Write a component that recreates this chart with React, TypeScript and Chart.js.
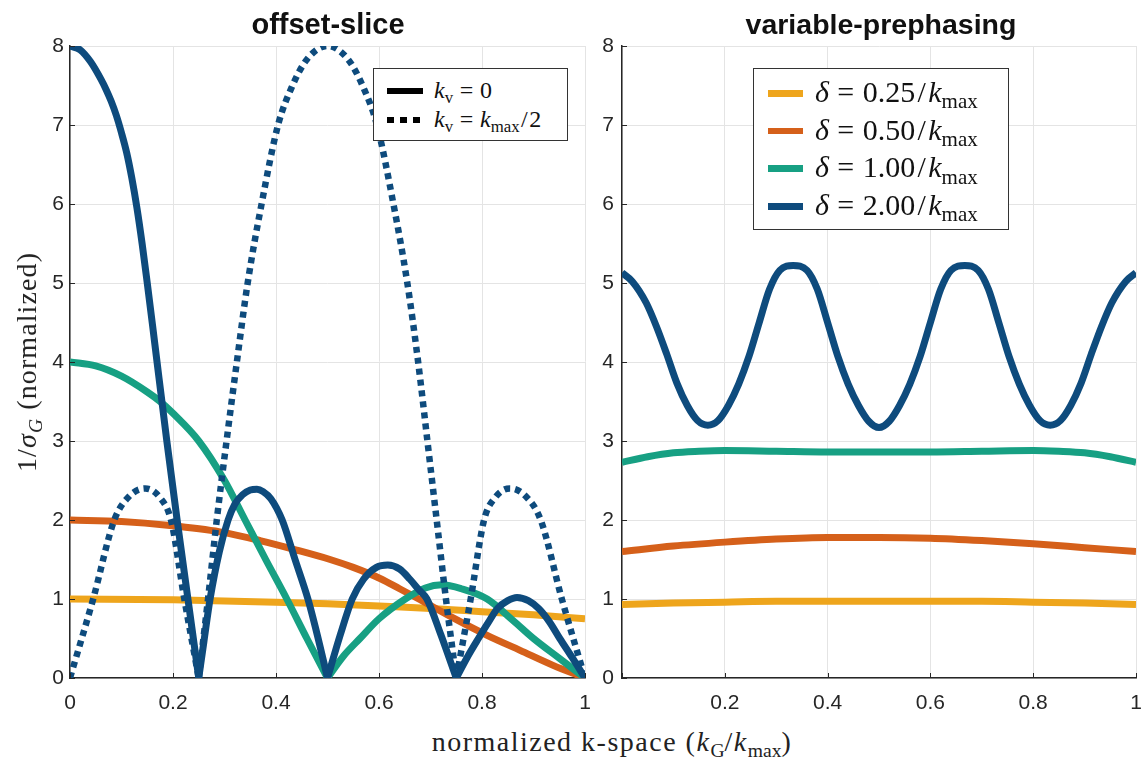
import React, { useEffect, useRef } from 'react';
import { Chart, registerables } from 'chart.js';

Chart.register(...registerables);

// ---------- data ----------
const panelTitles = ['offset-slice', 'variable-prephasing'];
const xTickValues = [0, 0.2, 0.4, 0.6, 0.8, 1];
const yTickValues = [0, 1, 2, 3, 4, 5, 6, 7, 8];

// offset-slice panel (k_v = 0 solid, k_v = k_max/2 dotted)
const osYellowX = [0, 0.2, 0.4, 0.5, 0.6, 0.7, 0.8, 0.9, 1.0];
const osYellowY = [1.0, 0.99, 0.96, 0.94, 0.91, 0.88, 0.84, 0.8, 0.75];

const osOrangeX = [0, 0.1, 0.194, 0.291, 0.369, 0.44, 0.505, 0.55, 0.602, 0.64, 0.68, 0.744, 0.81, 0.874, 0.938, 1.0];
const osOrangeY = [2.0, 1.98, 1.93, 1.85, 1.74, 1.62, 1.5, 1.4, 1.26, 1.13, 0.99, 0.76, 0.54, 0.35, 0.16, 0];

const osGreenX = [0, 0.05, 0.1, 0.15, 0.175, 0.2, 0.25, 0.3, 0.34, 0.38, 0.421, 0.46, 0.5, 0.53, 0.563, 0.6, 0.651, 0.69, 0.722, 0.76, 0.81, 0.86, 0.9, 0.95, 1.0];
const osGreenY = [4.0, 3.95, 3.82, 3.62, 3.5, 3.35, 3.0, 2.5, 2.0, 1.5, 1.0, 0.5, 0, 0.27, 0.5, 0.75, 1.0, 1.14, 1.18, 1.13, 1.0, 0.73, 0.5, 0.25, 0];

const osBlueX = [0, 0.02, 0.04, 0.06, 0.07, 0.08, 0.09, 0.1, 0.11, 0.12, 0.13, 0.14, 0.15, 0.16, 0.169, 0.188, 0.208, 0.229, 0.25,
  0.26, 0.272, 0.29, 0.307, 0.32, 0.335, 0.35, 0.363, 0.375, 0.39, 0.412, 0.437, 0.462, 0.48, 0.5,
  0.525, 0.548, 0.57, 0.595, 0.617, 0.64, 0.66, 0.677, 0.693, 0.72, 0.75,
  0.772, 0.793, 0.812, 0.83, 0.85, 0.868, 0.89, 0.91, 0.93, 0.951, 0.975, 1.0];
const osBlueY = [8.0, 7.95, 7.8, 7.58, 7.45, 7.3, 7.12, 6.9, 6.65, 6.33, 5.95, 5.5, 5.0, 4.48, 4.0, 3.0, 2.0, 1.0, 0,
  0.46, 1.0, 1.6, 2.0, 2.2, 2.32, 2.38, 2.39, 2.36, 2.27, 2.0, 1.5, 1.0, 0.55, 0,
  0.55, 1.0, 1.25, 1.4, 1.43, 1.38, 1.25, 1.12, 1.0, 0.55, 0,
  0.27, 0.5, 0.7, 0.88, 0.98, 1.02, 0.98, 0.88, 0.72, 0.5, 0.26, 0];

const osBlueDotX = [0, 0.045, 0.086, 0.115, 0.146, 0.175, 0.196, 0.222, 0.25, 0.268, 0.285, 0.304, 0.324, 0.345, 0.372, 0.404, 0.43, 0.46, 0.5, 0.54, 0.57, 0.596, 0.628, 0.655, 0.676, 0.694, 0.712, 0.73, 0.75, 0.778, 0.804, 0.825, 0.854, 0.885, 0.914, 0.955, 1.0];
const osBlueDotY = [0, 1.0, 2.0, 2.3, 2.4, 2.28, 2.0, 1.0, 0, 1.0, 2.0, 3.0, 4.0, 5.0, 6.0, 7.0, 7.47, 7.83, 8.0, 7.83, 7.47, 7.0, 6.0, 5.0, 4.0, 3.0, 2.0, 1.0, 0, 1.0, 2.0, 2.28, 2.4, 2.3, 2.0, 1.0, 0];

// variable-prephasing panel
const vpYellowX = [0, 0.1, 0.2, 0.3, 0.4, 0.5, 0.6, 0.7, 0.8, 0.9, 1.0];
const vpYellowY = [0.93, 0.95, 0.96, 0.97, 0.97, 0.97, 0.97, 0.97, 0.96, 0.95, 0.93];

const vpOrangeX = [0, 0.1, 0.2, 0.3, 0.4, 0.5, 0.6, 0.7, 0.8, 0.9, 1.0];
const vpOrangeY = [1.6, 1.67, 1.72, 1.76, 1.78, 1.78, 1.77, 1.74, 1.7, 1.65, 1.6];

const vpGreenX = [0, 0.05, 0.1, 0.15, 0.2, 0.3, 0.4, 0.5, 0.6, 0.7, 0.8, 0.85, 0.9, 0.95, 1.0];
const vpGreenY = [2.73, 2.8, 2.85, 2.87, 2.88, 2.87, 2.86, 2.86, 2.86, 2.87, 2.88, 2.87, 2.85, 2.8, 2.73];

const vpBlueX = [0, 0.02, 0.047, 0.067, 0.087, 0.107, 0.127, 0.147, 0.167, 0.187, 0.207, 0.227, 0.247, 0.267, 0.287, 0.307, 0.333,
  0.36, 0.38, 0.4, 0.42, 0.44, 0.46, 0.48, 0.5, 0.52, 0.54, 0.56, 0.58, 0.6, 0.62, 0.64, 0.667,
  0.693, 0.713, 0.733, 0.753, 0.773, 0.793, 0.813, 0.833, 0.853, 0.873, 0.893, 0.913, 0.933, 0.953, 0.98, 1.0];
const vpBlueY = [5.13, 5.02, 4.75, 4.45, 4.1, 3.73, 3.45, 3.26, 3.2, 3.26, 3.45, 3.72, 4.07, 4.5, 4.92, 5.16, 5.22,
  5.16, 4.92, 4.5, 4.07, 3.72, 3.45, 3.25, 3.17, 3.25, 3.45, 3.72, 4.07, 4.5, 4.92, 5.16, 5.22,
  5.16, 4.92, 4.5, 4.07, 3.72, 3.45, 3.26, 3.2, 3.26, 3.45, 3.73, 4.1, 4.45, 4.75, 5.02, 5.13];

const legendDeltas = ['0.25', '0.50', '1.00', '2.00'];

// ---------- styles ----------
const C_YELLOW = '#eea51c';
const C_ORANGE = '#d5601a';
const C_GREEN = '#17a083';
const C_BLUE = '#0e4b7d';
const AXIS = '#262626';
const GRID = '#e4e4e4';
const SANS = "'Liberation Sans', Arial, Helvetica, sans-serif";
const SERIF = "'Liberation Serif', 'DejaVu Serif', serif";
const LW = 7;

// split a curve at interior zeros so cusps stay sharp
function arches(xs: number[], ys: number[]) {
  const segs: { x: number; y: number }[][] = [];
  let cur: { x: number; y: number }[] = [];
  for (let i = 0; i < xs.length; i++) {
    cur.push({ x: xs[i], y: ys[i] });
    if (ys[i] === 0 && i > 0 && i < xs.length - 1) {
      segs.push(cur);
      cur = [{ x: xs[i], y: ys[i] }];
    }
  }
  segs.push(cur);
  return segs;
}

function makeSets(xs: number[], ys: number[], color: string, order: number, dash?: number[]) {
  return arches(xs, ys).map((seg) => ({
    data: seg,
    borderColor: color,
    borderWidth: dash ? 6.5 : LW,
    borderDash: dash || [],
    borderCapStyle: 'butt',
    borderJoinStyle: 'round',
    cubicInterpolationMode: 'monotone',
    pointRadius: 0,
    fill: false,
    order,
  }));
}

const inwardTicks = {
  id: 'inwardTicks',
  afterDraw(chart: any) {
    const { ctx, chartArea: a, scales } = chart;
    const x = scales.x;
    const y = scales.y;
    ctx.save();
    ctx.strokeStyle = AXIS;
    ctx.lineWidth = 1;
    ctx.beginPath();
    x.ticks.forEach((t: any) => {
      const px = Math.round(x.getPixelForValue(t.value)) + 0.5;
      ctx.moveTo(px, a.bottom);
      ctx.lineTo(px, a.bottom - 5);
    });
    y.ticks.forEach((t: any) => {
      const py = Math.round(y.getPixelForValue(t.value)) + 0.5;
      ctx.moveTo(a.left, py);
      ctx.lineTo(a.left + 5, py);
    });
    ctx.stroke();
    ctx.restore();
  },
};

function fmt(v: number) {
  return String(Number(v.toFixed(1)));
}

function makeOptions(yAxisWidth: number, padRight: number, hideZeroX: boolean, yPad: number) {
  return {
    animation: false,
    responsive: false,
    maintainAspectRatio: false,
    devicePixelRatio: 1,
    events: [],
    layout: { padding: { top: 46, right: padRight, bottom: 0, left: 0 } },
    plugins: { legend: { display: false }, tooltip: { enabled: false }, title: { display: false } },
    scales: {
      x: {
        type: 'linear',
        min: 0,
        max: 1,
        afterBuildTicks(s: any) {
          s.ticks = xTickValues.map((v) => ({ value: v }));
        },
        ticks: {
          autoSkip: false,
          maxRotation: 0,
          padding: 13,
          color: AXIS,
          font: { family: SANS, size: 21 },
          callback: (v: number) => (hideZeroX && v === 0 ? '' : fmt(v)),
        },
        grid: { color: GRID, lineWidth: 1, drawTicks: false },
        border: { color: AXIS, width: 1.5 },
        afterFit(s: any) {
          s.height = 42;
          s.paddingLeft = 0;
          s.paddingRight = 0;
        },
      },
      y: {
        type: 'linear',
        min: 0,
        max: 8,
        afterBuildTicks(s: any) {
          s.ticks = yTickValues.map((v) => ({ value: v }));
        },
        ticks: {
          autoSkip: false,
          padding: yPad,
          color: AXIS,
          font: { family: SANS, size: 21 },
          callback: (v: number) => String(v),
        },
        grid: { color: GRID, lineWidth: 1, drawTicks: false },
        border: { color: AXIS, width: 1.5 },
        afterFit(s: any) {
          s.width = yAxisWidth;
          s.paddingTop = 0;
          s.paddingBottom = 0;
        },
      },
    },
  };
}

function K({ sub }: { sub: string }) {
  return (
    <span>
      <span style={{ fontStyle: 'italic' }}>k</span>
      <span style={{ fontSize: '0.7em', fontStyle: 'normal', position: 'relative', top: '0.3em', letterSpacing: 0 }}>{sub}</span>
    </span>
  );
}

function Eq() {
  return <span style={{ margin: '0 0.28em' }}>=</span>;
}

export default function App() {
  const leftRef = useRef<HTMLCanvasElement | null>(null);
  const rightRef = useRef<HTMLCanvasElement | null>(null);

  useEffect(() => {
    document.body.style.margin = '0';
    const left = new Chart(leftRef.current as HTMLCanvasElement, {
      type: 'line',
      data: {
        datasets: [
          ...makeSets(osBlueDotX, osBlueDotY, C_BLUE, 0, [6, 5]),
          ...makeSets(osBlueX, osBlueY, C_BLUE, 1),
          ...makeSets(osGreenX, osGreenY, C_GREEN, 2),
          ...makeSets(osOrangeX, osOrangeY, C_ORANGE, 3),
          ...makeSets(osYellowX, osYellowY, C_YELLOW, 4),
        ],
      } as any,
      options: makeOptions(70, 15, false, 6) as any,
      plugins: [inwardTicks],
    });
    const right = new Chart(rightRef.current as HTMLCanvasElement, {
      type: 'line',
      data: {
        datasets: [
          ...makeSets(vpBlueX, vpBlueY, C_BLUE, 1),
          ...makeSets(vpGreenX, vpGreenY, C_GREEN, 2),
          ...makeSets(vpOrangeX, vpOrangeY, C_ORANGE, 3),
          ...makeSets(vpYellowX, vpYellowY, C_YELLOW, 4),
        ],
      } as any,
      options: makeOptions(62, 6, true, 8) as any,
      plugins: [inwardTicks],
    });
    return () => {
      left.destroy();
      right.destroy();
    };
  }, []);

  const abs = (extra: React.CSSProperties): React.CSSProperties => ({ position: 'absolute', whiteSpace: 'nowrap', ...extra });
  const legendColors = [C_YELLOW, C_ORANGE, C_GREEN, C_BLUE];

  return (
    <div style={{ position: 'relative', width: 1142, height: 762, overflow: 'hidden', background: '#fff' }}>
      <canvas ref={leftRef} width={600} height={720} style={{ position: 'absolute', left: 0, top: 0, width: 600, height: 720 }} />
      <canvas ref={rightRef} width={582} height={720} style={{ position: 'absolute', left: 560, top: 0, width: 582, height: 720 }} />

      {/* panel titles */}
      <div style={abs({ left: 328, top: 24, transform: 'translate(-50%, -50%)', fontFamily: SANS, fontWeight: 'bold', fontSize: 29, color: '#111' })}>
        {panelTitles[0]}
      </div>
      <div style={abs({ left: 881, top: 24, transform: 'translate(-50%, -50%)', fontFamily: SANS, fontWeight: 'bold', fontSize: 28.5, color: '#111' })}>
        {panelTitles[1]}
      </div>

      {/* y axis label */}
      <div style={abs({ left: 27, top: 362, transform: 'translate(-50%, -50%) rotate(-90deg)', fontFamily: SERIF, fontSize: 28, letterSpacing: 1.1, color: '#222' })}>
        1/<span style={{ fontStyle: 'italic' }}>σ</span>
        <span style={{ fontSize: '0.7em', fontStyle: 'italic', position: 'relative', top: '0.3em' }}>G</span> (normalized)
      </div>

      {/* x axis label */}
      <div style={abs({ left: 612, top: 742, transform: 'translate(-50%, -50%)', fontFamily: SERIF, fontSize: 28, letterSpacing: 1.5, color: '#222' })}>
        normalized k-space (<K sub="G" />/<K sub="max" />)
      </div>

      {/* left legend */}
      <div style={abs({ left: 373, top: 68, width: 195, height: 73, boxSizing: 'border-box', border: '1.5px solid #333', background: '#fff' })} />
      <div style={abs({ left: 387, top: 88, width: 36, height: 6, background: '#000' })} />
      <div
        style={abs({
          left: 387,
          top: 117,
          width: 36,
          height: 6,
          background: 'repeating-linear-gradient(90deg, #000 0px, #000 7px, transparent 7px, transparent 13px)',
        })}
      />
      <div style={abs({ left: 434, top: 90, transform: 'translateY(-50%)', fontFamily: SERIF, fontSize: 24, color: '#111' })}>
        <K sub="v" />
        <Eq />0
      </div>
      <div style={abs({ left: 434, top: 119, transform: 'translateY(-50%)', fontFamily: SERIF, fontSize: 24, color: '#111' })}>
        <K sub="v" />
        <Eq />
        <K sub="max" />
        <span style={{ margin: '0 0.06em' }}>/</span>2
      </div>

      {/* right legend */}
      <div style={abs({ left: 753, top: 68, width: 256, height: 162, boxSizing: 'border-box', border: '1.5px solid #333', background: '#fff' })} />
      {legendDeltas.map((d, i) => (
        <React.Fragment key={d}>
          <div style={abs({ left: 768, top: 93 + i * 37.7 - 3, width: 35, height: 6.5, background: legendColors[i] })} />
          <div style={abs({ left: 815, top: 92 + i * 37.7, transform: 'translateY(-50%)', fontFamily: SERIF, fontSize: 30, color: '#111' })}>
            <span style={{ fontStyle: 'italic' }}>δ</span>
            <Eq />
            {d}
            <span style={{ margin: '0 0.08em' }}>/</span>
            <K sub="max" />
          </div>
        </React.Fragment>
      ))}
    </div>
  );
}
